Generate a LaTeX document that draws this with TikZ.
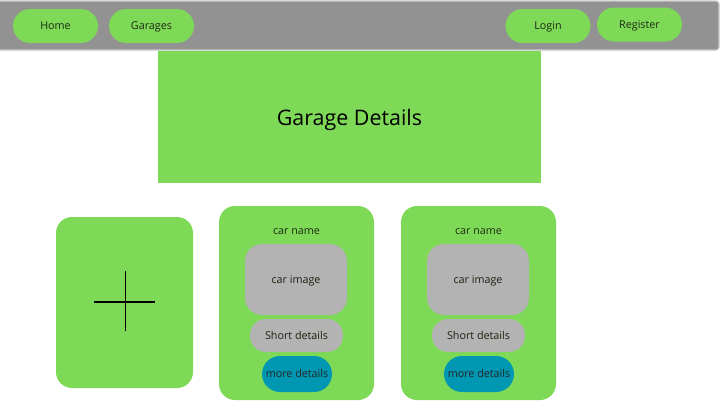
\documentclass[tikz,border=0pt]{standalone}
\usepackage{fontspec}
\setmainfont{Open Sans}
\definecolor{grn}{HTML}{7ED957}
\definecolor{navgray}{HTML}{929292}
\definecolor{navedge}{HTML}{C8C8C8}
\definecolor{boxgray}{HTML}{B3B3B3}
\definecolor{teal}{HTML}{0097B2}
\definecolor{txt}{HTML}{1E2A14}
\begin{document}
\begin{tikzpicture}[x=1bp,y=-1bp,
  fs/.style={font=\fontsize{10.8}{13}\selectfont},
  pill/.style={fill=grn, rounded corners=17bp, minimum width=85bp, minimum height=34bp, inner sep=0pt, fs, text=txt, text depth=0pt, text height=7.5bp},
  card/.style={fill=grn, rounded corners=16bp},
  lbl/.style={fs, text=txt, text depth=0pt, text height=7.5bp},
  grayimg/.style={fill=boxgray, rounded corners=17bp, minimum width=102bp, minimum height=71bp, inner sep=0pt, fs, text=txt!80!black, text depth=0pt, text height=7.5bp},
  grayshort/.style={fill=boxgray, rounded corners=16bp, minimum width=93bp, minimum height=33bp, inner sep=0pt, fs, text=txt!80!black, text depth=0pt, text height=7.5bp},
  morebtn/.style={fill=teal, rounded corners=18bp, minimum width=70bp, minimum height=36bp, inner sep=0pt, fs, text=black!85, text depth=0pt, text height=7.5bp}
]
\useasboundingbox (0,0) rectangle (720,410);
\fill[white] (0,0) rectangle (720,410);
% nav bar
\draw[navedge, fill=navgray, line width=1.2bp, rounded corners=3bp] (-3,1) rectangle (719,50);
\node[pill] (home) at (55.5,26) {Home};
\node[pill] (garages) at (151.5,26) {Garages};
\node[pill] (login) at (548,26) {Login};
\node[pill] (register) at (639.5,24.5) {Register};
% title box
\fill[grn] (158,51) rectangle (541,183);
\node[font=\fontsize{21.5}{26}\selectfont, text=black, text depth=0pt, text height=15bp] (title) at (349.5,118) {Garage Details};
% add card
\fill[card] (56,217) rectangle (193,388);
\coordinate (pl) at (94,302);
\coordinate (pr) at (155,302);
\coordinate (pt) at (125.5,271);
\coordinate (pb) at (125.5,331);
\draw[black, line width=1.4bp] (pl) -- (pr);
\draw[black, line width=1.4bp] (pt) -- (pb);
% car cards
\foreach \dx/\n in {0/a, 182/b} {
  \begin{scope}[xshift=\dx bp]
  \fill[card] (219,206) rectangle (374,400);
  \node[lbl] (name\n) at (296.5,231) {car name};
  \node[grayimg] (img\n) at (296,279.5) {car image};
  \node[grayshort] (short\n) at (296.5,335.5) {Short details};
  \node[morebtn] (more\n) at (297,374) {more details};
  \end{scope}
}
\end{tikzpicture}
\end{document}
